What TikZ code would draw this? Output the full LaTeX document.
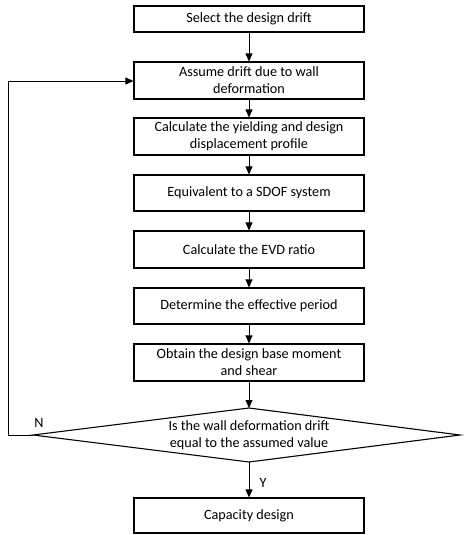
\documentclass[tikz,border=0pt]{standalone}
\usepackage{fontspec}
\setmainfont{Carlito}
\usetikzlibrary{arrows.meta,shapes.geometric}
\begin{document}
\begin{tikzpicture}[x=1pt,y=-1pt,
  stepbox/.style={draw,line width=1.1pt,minimum width=230pt,align=center,font=\fontsize{14.2}{17}\selectfont,inner sep=0pt},
  conn/.style={draw,line width=0.8pt,-{Triangle[length=8pt,width=7pt]}},
  lbl/.style={font=\fontsize{14.2}{17}\selectfont}]
\useasboundingbox (0,0) rectangle (463,535);
\node[stepbox,minimum height=26pt] (b1) at (249,19) {Select the design drift};
\node[stepbox,minimum height=37pt] (b2) at (249,80.5) {Assume drift due to wall\\deformation};
\node[stepbox,minimum height=37pt] (b3) at (249,136.5) {Calculate the yielding and design\\displacement profile};
\node[stepbox,minimum height=36pt] (b4) at (249,193) {Equivalent to a SDOF system};
\node[stepbox,minimum height=37pt] (b5) at (249,249.5) {Calculate the EVD ratio};
\node[stepbox,minimum height=36pt] (b6) at (249,306) {Determine the effective period};
\node[stepbox,minimum height=37pt] (b7) at (249,362.5) {Obtain the design base moment\\and shear};
\draw[line width=1.1pt] (249,408) coordinate (dt) -- (460,435) coordinate (dr) -- (249,462) coordinate (db) -- (33,435) coordinate (dl) -- cycle;
\node[align=center,font=\fontsize{14.2}{17}\selectfont] (d) at (249,435) {Is the wall deformation drift\\equal to the assumed value};
\node[stepbox,minimum height=35pt] (b8) at (249,515.5) {Capacity design};
\coordinate (c1) at (8,435);
\coordinate (c2) at (8,81);
\path[conn] (b1) -- (b2);
\path[conn] (b2) -- (b3);
\path[conn] (b3) -- (b4);
\path[conn] (b4) -- (b5);
\path[conn] (b5) -- (b6);
\path[conn] (b6) -- (b7);
\path[conn] (b7) -- (dt);
\path[conn] (db) -- (b8);
\path[conn] (dl) -- (c1) -- (c2) -- (c2 -| b2.west);
\node[lbl] (n) at (39,423) {N};
\node[lbl] (y) at (263,483) {Y};
\end{tikzpicture}
\end{document}
